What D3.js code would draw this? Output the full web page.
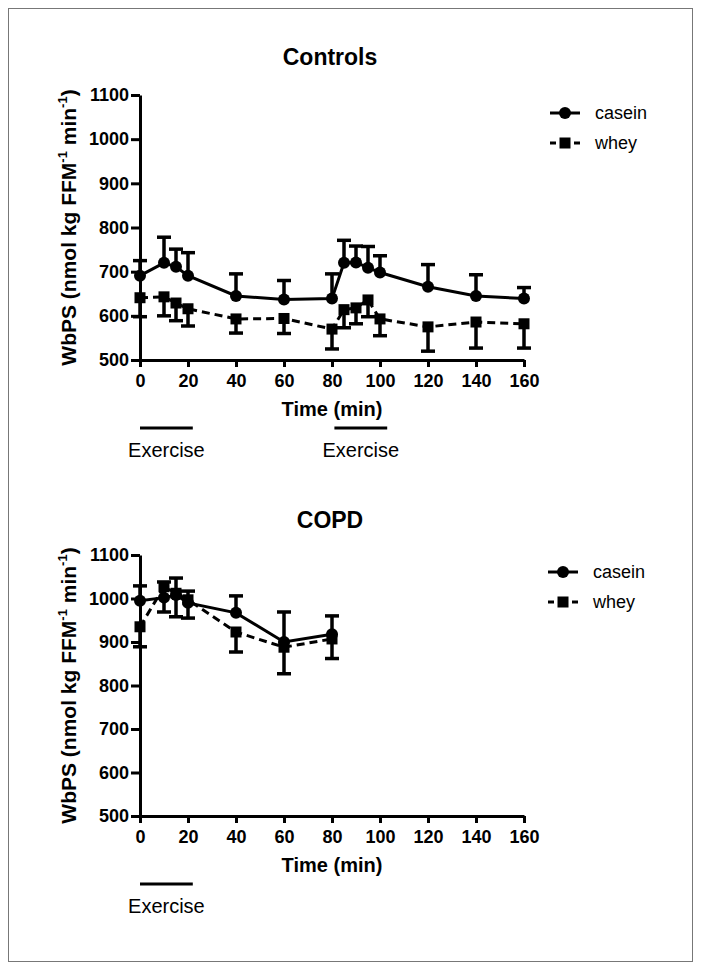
<!DOCTYPE html>
<html>
<head>
<meta charset="utf-8">
<script src="https://cdn.jsdelivr.net/npm/d3@7"></script>
<style>
  body { margin: 0; background: #fff; }
  svg { display: block; font-family: "Liberation Sans", Arial, sans-serif; }
</style>
</head>
<body>
<svg id="chart" width="702" height="970"></svg>
<script>
// ---- data ----
const ctrlTimes = [0, 10, 15, 20, 40, 60, 80, 85, 90, 95, 100, 120, 140, 160];
const ctrlCasein = [691, 720, 711, 691, 645, 637, 639, 720, 721, 709, 698, 666, 645, 639];
const ctrlCaseinErr = [34, 58, 40, 52, 50, 43, 56, 51, 37, 48, 38, 50, 48, 25];
const ctrlWhey = [641, 643, 629, 616, 593, 594, 570, 614, 618, 636, 593, 575, 586, 582];
const ctrlWheyErr = [43, 43, 40, 39, 32, 34, 45, 41, 36, 38, 38, 55, 59, 55];

const copdTimes = [0, 10, 15, 20, 40, 60, 80];
const copdCasein = [995, 1002, 1008, 990, 967, 900, 918];
const copdCaseinErr = [34, 36, 39, 27, 39, 69, 42];
const copdWhey = [935, 1027, 1012, 997, 923, 888, 907];
const copdWheyErr = [46, 58, 54, 42, 46, 61, 45];

const xTicks = [0, 20, 40, 60, 80, 100, 120, 140, 160];
const yTicks = [500, 600, 700, 800, 900, 1000, 1100];
const seriesNames = ["casein", "whey"];
const ctrlExercise = [[0, 22], [81, 103]];
const copdExercise = [[0, 22]];

// ---- drawing ----
const svg = d3.select("#chart");
const FONT = "'Liberation Sans', Arial, sans-serif";

svg.append("rect").attr("x", 8.5).attr("y", 8.5).attr("width", 684).attr("height", 953)
  .attr("fill", "none").attr("stroke", "#777").attr("stroke-width", 1);

function panel(opts) {
  const g = svg.append("g");
  const x = d3.scaleLinear().domain([0, 160]).range([140, 524]);
  const y = d3.scaleLinear().domain([500, 1100]).range([opts.yBottom, opts.yTop]);

  // title
  g.append("text").attr("x", 330).attr("y", opts.titleY).attr("text-anchor", "middle")
    .attr("font-size", 23).attr("font-weight", "bold").text(opts.title);

  // axes
  const xa = g.append("g").attr("transform", `translate(0,${opts.yBottom})`)
    .call(d3.axisBottom(x).tickValues(xTicks).tickSize(7).tickSizeOuter(0).tickPadding(7).tickFormat(d3.format("d")));
  const ya = g.append("g").attr("transform", "translate(140,0)")
    .call(d3.axisLeft(y).tickValues(yTicks).tickSize(9).tickSizeOuter(0).tickPadding(2).tickFormat(d3.format("d")));
  [xa, ya].forEach(a => {
    a.select(".domain").attr("stroke", "#000").attr("stroke-width", 3);
    a.selectAll(".tick line").attr("stroke", "#000").attr("stroke-width", 3);
    a.selectAll(".tick text").attr("fill", "#000").attr("font-size", 18).attr("font-weight", "bold")
      .attr("font-family", FONT);
  });

  // axis titles
  g.append("text").attr("x", 332).attr("y", opts.yBottom + 56).attr("text-anchor", "middle")
    .attr("font-size", 20).attr("font-weight", "bold").text("Time (min)");
  const yc = (opts.yTop + opts.yBottom) / 2;
  const yl = g.append("text").attr("transform", `translate(76,${yc}) rotate(-90)`)
    .attr("text-anchor", "middle").attr("font-size", 21).attr("font-weight", "bold");
  yl.append("tspan").text("WbPS (nmol kg FFM");
  yl.append("tspan").attr("font-size", 13).attr("dy", -9).text("-1");
  yl.append("tspan").attr("dy", 9).text(" min");
  yl.append("tspan").attr("font-size", 13).attr("dy", -9).text("-1");
  yl.append("tspan").attr("dy", 9).text(")");

  // exercise bars
  opts.exercise.forEach(([a, b]) => {
    g.append("line").attr("x1", x(a)).attr("x2", x(b))
      .attr("y1", opts.yBottom + 68).attr("y2", opts.yBottom + 68)
      .attr("stroke", "#000").attr("stroke-width", 3);
    g.append("text").attr("x", (x(a) + x(b)) / 2).attr("y", opts.yBottom + 97)
      .attr("text-anchor", "middle").attr("font-size", 20).text("Exercise");
  });

  const line = d3.line().x(d => x(d.t)).y(d => y(d.v));
  const mk = (vals, errs, sign) => opts.times.map((t, i) => ({ t, v: vals[i], e: errs[i], s: sign }));
  const cas = mk(opts.casein, opts.caseinErr, 1);
  const why = mk(opts.whey, opts.wheyErr, -1);

  g.append("path").datum(why).attr("d", line).attr("fill", "none").attr("stroke", "#000")
    .attr("stroke-width", 3).attr("stroke-dasharray", "8,5");
  g.append("path").datum(cas).attr("d", line).attr("fill", "none").attr("stroke", "#000")
    .attr("stroke-width", 3);

  [cas, why].forEach(data => {
    const eb = g.append("g");
    eb.selectAll("line.v").data(data).join("line")
      .attr("x1", d => x(d.t)).attr("x2", d => x(d.t))
      .attr("y1", d => y(d.v)).attr("y2", d => y(d.v + d.s * d.e))
      .attr("stroke", "#000").attr("stroke-width", 3.5);
    eb.selectAll("line.c").data(data).join("line")
      .attr("x1", d => x(d.t) - 7).attr("x2", d => x(d.t) + 7)
      .attr("y1", d => y(d.v + d.s * d.e)).attr("y2", d => y(d.v + d.s * d.e))
      .attr("stroke", "#000").attr("stroke-width", 3.5);
  });

  g.selectAll("rect.m").data(why).join("rect")
    .attr("x", d => x(d.t) - 5.5).attr("y", d => y(d.v) - 5.5).attr("width", 11).attr("height", 11)
    .attr("fill", "#000");
  g.selectAll("circle.m").data(cas).join("circle")
    .attr("cx", d => x(d.t)).attr("cy", d => y(d.v)).attr("r", 6).attr("fill", "#000");

  // legend
  seriesNames.forEach((name, i) => {
    const ly = opts.legendY + i * 30;
    const lg = g.append("g");
    lg.append("line").attr("x1", opts.legendX).attr("x2", opts.legendX + 30).attr("y1", ly).attr("y2", ly)
      .attr("stroke", "#000").attr("stroke-width", 3)
      .attr("stroke-dasharray", i === 1 ? "6,18,6" : null);
    if (i === 0) {
      lg.append("circle").attr("cx", opts.legendX + 15).attr("cy", ly).attr("r", 6).attr("fill", "#000");
    } else {
      lg.append("rect").attr("x", opts.legendX + 9.5).attr("y", ly - 5.5).attr("width", 11).attr("height", 11).attr("fill", "#000");
    }
    lg.append("text").attr("x", opts.legendX + 45).attr("y", ly + 6).attr("font-size", 18).text(name);
  });
}

panel({
  title: "Controls", titleY: 65, yTop: 95, yBottom: 360,
  times: ctrlTimes, casein: ctrlCasein, caseinErr: ctrlCaseinErr, whey: ctrlWhey, wheyErr: ctrlWheyErr,
  exercise: ctrlExercise, legendX: 550, legendY: 113
});
panel({
  title: "COPD", titleY: 528, yTop: 555, yBottom: 816,
  times: copdTimes, casein: copdCasein, caseinErr: copdCaseinErr, whey: copdWhey, wheyErr: copdWheyErr,
  exercise: copdExercise, legendX: 548, legendY: 572
});
</script>
</body>
</html>
